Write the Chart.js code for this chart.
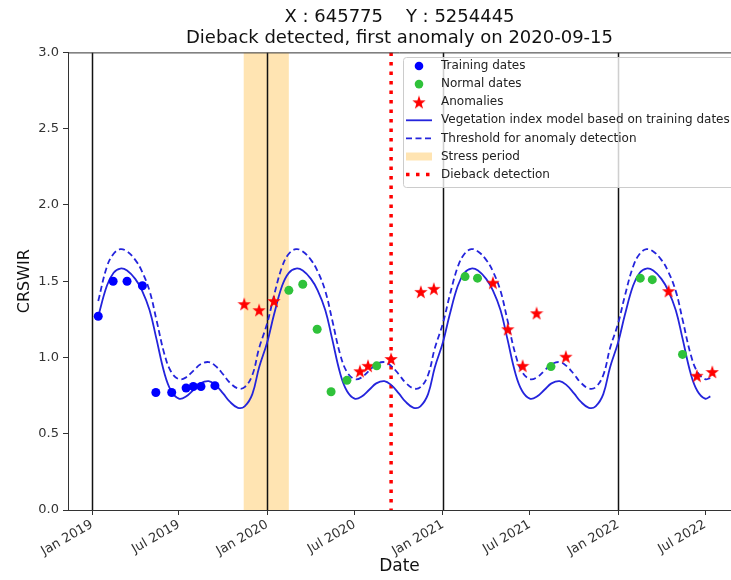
<!DOCTYPE html>
<html>
<head>
<meta charset="utf-8">
<script src="https://cdn.jsdelivr.net/npm/chart.js@4.4.1/dist/chart.umd.min.js"></script>
<style>
  html, body { margin: 0; padding: 0; background: #fff; }
</style>
</head>
<body>
<canvas id="chart" width="731" height="580"></canvas>
<script>
// values
const trainingDates = ['2019-01-14', '2019-02-14', '2019-03-15', '2019-04-16', '2019-05-14',
  '2019-06-16', '2019-07-16', '2019-07-31', '2019-08-16', '2019-09-14'];
const trainingValues = [1.27, 1.50, 1.50, 1.47, 0.77, 0.77, 0.80, 0.81, 0.81, 0.815];

const normalDates = ['2020-02-15', '2020-03-15', '2020-04-14', '2020-05-13', '2020-06-15',
  '2020-08-16', '2021-02-16', '2021-03-14', '2021-08-14', '2022-02-16', '2022-03-13', '2022-05-15'];
const normalValues = [1.44, 1.48, 1.185, 0.775, 0.85, 0.945, 1.53, 1.52, 0.94, 1.52, 1.51, 1.02];

const anomalyDates = ['2019-11-14', '2019-12-15', '2020-01-15', '2020-07-12', '2020-07-29',
  '2020-09-15', '2020-11-16', '2020-12-13', '2021-04-15', '2021-05-16', '2021-06-16',
  '2021-07-15', '2021-09-14', '2022-04-16', '2022-06-14', '2022-07-16'];
const anomalyValues = [1.35, 1.31, 1.37, 0.91, 0.945, 0.99, 1.43, 1.45, 1.49, 1.185, 0.945,
  1.29, 1.005, 1.435, 0.88, 0.905];

const modelDates = [
  '2019-01-14', '2019-02-01', '2019-02-15', '2019-03-01', '2019-03-15', '2019-04-01', '2019-04-15',
  '2019-05-01', '2019-05-15', '2019-06-01', '2019-06-15', '2019-07-01', '2019-07-15', '2019-08-01',
  '2019-08-15', '2019-09-01', '2019-09-15', '2019-10-01', '2019-10-15', '2019-11-01', '2019-11-15',
  '2019-12-01', '2019-12-15',
  '2020-01-01', '2020-01-15', '2020-02-01', '2020-02-15', '2020-03-01', '2020-03-15', '2020-04-01',
  '2020-04-15', '2020-05-01', '2020-05-15', '2020-06-01', '2020-06-15', '2020-07-01', '2020-07-15',
  '2020-08-01', '2020-08-15', '2020-09-01', '2020-09-15', '2020-10-01', '2020-10-15', '2020-11-01',
  '2020-11-15', '2020-12-01', '2020-12-15',
  '2021-01-01', '2021-01-15', '2021-02-01', '2021-02-15', '2021-03-01', '2021-03-15', '2021-04-01',
  '2021-04-15', '2021-05-01', '2021-05-15', '2021-06-01', '2021-06-15', '2021-07-01', '2021-07-15',
  '2021-08-01', '2021-08-15', '2021-09-01', '2021-09-15', '2021-10-01', '2021-10-15', '2021-11-01',
  '2021-11-15', '2021-12-01', '2021-12-15',
  '2022-01-01', '2022-01-15', '2022-02-01', '2022-02-15', '2022-03-01', '2022-03-15', '2022-04-01',
  '2022-04-15', '2022-05-01', '2022-05-15', '2022-06-01', '2022-06-15', '2022-07-01', '2022-07-12'
];
const modelValues = [
  1.27, 1.47, 1.555, 1.583, 1.57, 1.515, 1.44, 1.31, 1.125, 0.895, 0.78, 0.73, 0.742, 0.79,
  0.83, 0.845, 0.82, 0.765, 0.71, 0.67, 0.68, 0.76, 0.935,
  1.10, 1.28, 1.47, 1.555, 1.583, 1.57, 1.515, 1.44, 1.31, 1.125, 0.895, 0.78, 0.73, 0.742,
  0.79, 0.83, 0.845, 0.82, 0.765, 0.71, 0.67, 0.68, 0.76, 0.935,
  1.10, 1.28, 1.47, 1.555, 1.583, 1.57, 1.515, 1.44, 1.31, 1.125, 0.895, 0.78, 0.73, 0.742,
  0.79, 0.83, 0.845, 0.82, 0.765, 0.71, 0.67, 0.68, 0.76, 0.935,
  1.10, 1.28, 1.47, 1.555, 1.583, 1.57, 1.515, 1.44, 1.31, 1.125, 0.895, 0.78, 0.73, 0.745
];
const thresholdValues = [
  1.37, 1.595, 1.68, 1.71, 1.695, 1.64, 1.565, 1.435, 1.25, 1.02, 0.905, 0.858, 0.868, 0.915,
  0.955, 0.97, 0.945, 0.89, 0.835, 0.797, 0.805, 0.885, 1.06,
  1.225, 1.405, 1.595, 1.68, 1.71, 1.695, 1.64, 1.565, 1.435, 1.25, 1.02, 0.905, 0.858, 0.868,
  0.915, 0.955, 0.97, 0.945, 0.89, 0.835, 0.797, 0.805, 0.885, 1.06,
  1.225, 1.405, 1.595, 1.68, 1.71, 1.695, 1.64, 1.565, 1.435, 1.25, 1.02, 0.905, 0.858, 0.868,
  0.915, 0.955, 0.97, 0.945, 0.89, 0.835, 0.797, 0.805, 0.885, 1.06,
  1.225, 1.405, 1.595, 1.68, 1.71, 1.695, 1.64, 1.565, 1.435, 1.25, 1.02, 0.905, 0.858, 0.865
];

const yearLines = ['2019-01-01', '2020-01-01', '2021-01-01', '2022-01-01'];
const stressPeriod = ['2019-11-13', '2020-02-15'];
const diebackDate = '2020-09-15';

const tickDates = ['2019-01-01', '2019-07-01', '2020-01-01', '2020-07-01',
  '2021-01-01', '2021-07-01', '2022-01-01', '2022-07-01'];
const tickLabels = ['Jan 2019', 'Jul 2019', 'Jan 2020', 'Jul 2020',
  'Jan 2021', 'Jul 2021', 'Jan 2022', 'Jul 2022'];
const yTicks = [0, 0.5, 1.0, 1.5, 2.0, 2.5, 3.0];

const FONT = 'DejaVu Sans';
const LINE_BLUE = '#2424dc';
const STRESS_FILL = 'rgba(255,165,0,0.3)';

const toPoints = (dates, values) => dates.map((d, i) => ({ x: Date.parse(d), y: values[i] }));

// filled five-point star, like matplotlib's '*'
function makeStar(size, color) {
  const c = document.createElement('canvas');
  c.width = size; c.height = size;
  const g = c.getContext('2d');
  const r = size / 2, ri = r * 0.4;
  g.beginPath();
  for (let k = 0; k < 10; k++) {
    const rad = k % 2 ? ri : r;
    const a = -Math.PI / 2 + k * Math.PI / 5;
    g.lineTo(r + rad * Math.cos(a), r + rad * 1.05 * Math.sin(a) + 0.6);
  }
  g.closePath();
  g.fillStyle = color;
  g.fill();
  return c;
}
const starImg = makeStar(14, '#ff0000');

const overlays = {
  id: 'overlays',
  beforeDatasetsDraw(chart) {
    const { ctx, chartArea: a, scales: { x } } = chart;
    ctx.save();
    ctx.beginPath();
    ctx.rect(a.left, a.top, a.right - a.left, a.bottom - a.top);
    ctx.clip();

    // stress period
    const s0 = x.getPixelForValue(Date.parse(stressPeriod[0]));
    const s1 = x.getPixelForValue(Date.parse(stressPeriod[1]));
    ctx.fillStyle = STRESS_FILL;
    ctx.fillRect(s0, a.top, s1 - s0, a.bottom - a.top);

    // year boundaries
    ctx.strokeStyle = '#111';
    ctx.lineWidth = 1.5;
    yearLines.forEach(d => {
      const px = Math.round(x.getPixelForValue(Date.parse(d))) + 0.5;
      ctx.beginPath();
      ctx.moveTo(px, a.top);
      ctx.lineTo(px, a.bottom);
      ctx.stroke();
    });

    // dieback detection
    const dx = x.getPixelForValue(Date.parse(diebackDate));
    ctx.strokeStyle = '#ff0000';
    ctx.lineWidth = 3.5;
    ctx.setLineDash([3.5, 6]);
    ctx.beginPath();
    ctx.moveTo(dx, a.top);
    ctx.lineTo(dx, a.bottom);
    ctx.stroke();
    ctx.restore();
  },
  afterDraw(chart) {
    const { ctx, chartArea: a } = chart;
    ctx.save();
    // top spine
    ctx.strokeStyle = '#333';
    ctx.lineWidth = 1;
    ctx.beginPath();
    ctx.moveTo(a.left, a.top + 0.5);
    ctx.lineTo(a.right, a.top + 0.5);
    ctx.stroke();

    // legend
    const lx = 403, ly = 57, lw = 345, lh = 130;
    ctx.fillStyle = 'rgba(255,255,255,0.8)';
    ctx.strokeStyle = '#cccccc';
    ctx.beginPath();
    ctx.roundRect(lx + 0.5, ly + 0.5, lw, lh, 3);
    ctx.fill();
    ctx.stroke();

    const ds = chart.data.datasets;
    const rows = [
      { kind: 'dot', color: ds[0].pointBackgroundColor, text: ds[0].label },
      { kind: 'dot', color: ds[1].pointBackgroundColor, text: ds[1].label },
      { kind: 'star', text: ds[2].label },
      { kind: 'line', dash: [], text: ds[3].label },
      { kind: 'line', dash: ds[4].borderDash, text: ds[4].label },
      { kind: 'patch', text: 'Stress period' },
      { kind: 'dots', text: 'Dieback detection' }
    ];
    const hx0 = 406, hx1 = 432, mx = 419;
    rows.forEach((r, i) => {
      const y = 66 + i * 18.1;
      ctx.setLineDash([]);
      if (r.kind === 'dot') {
        ctx.fillStyle = r.color;
        ctx.beginPath();
        ctx.arc(mx, y, 4.3, 0, Math.PI * 2);
        ctx.fill();
      } else if (r.kind === 'star') {
        ctx.drawImage(starImg, mx - starImg.width / 2, y - starImg.height / 2);
      } else if (r.kind === 'line') {
        ctx.strokeStyle = LINE_BLUE;
        ctx.lineWidth = 1.8;
        ctx.setLineDash(r.dash);
        ctx.beginPath();
        ctx.moveTo(hx0, y);
        ctx.lineTo(hx1, y);
        ctx.stroke();
      } else if (r.kind === 'patch') {
        ctx.fillStyle = STRESS_FILL;
        ctx.fillRect(hx0, y - 4, hx1 - hx0, 8);
      } else if (r.kind === 'dots') {
        ctx.strokeStyle = '#ff0000';
        ctx.lineWidth = 3.5;
        ctx.setLineDash([3.5, 6.5]);
        ctx.beginPath();
        ctx.moveTo(hx0, y);
        ctx.lineTo(hx1, y);
        ctx.stroke();
      }
      ctx.setLineDash([]);
      ctx.fillStyle = '#222';
      ctx.font = '12px "' + FONT + '"';
      ctx.textBaseline = 'middle';
      ctx.textAlign = 'left';
      ctx.fillText(r.text, 441, y);
    });
    ctx.restore();
  }
};

new Chart(document.getElementById('chart'), {
  type: 'scatter',
  data: {
    datasets: [
      {
        label: 'Training dates',
        data: toPoints(trainingDates, trainingValues),
        pointRadius: 4.5,
        pointBackgroundColor: '#0000ff',
        pointBorderWidth: 0
      },
      {
        label: 'Normal dates',
        data: toPoints(normalDates, normalValues),
        pointRadius: 4.5,
        pointBackgroundColor: '#2fc23a',
        pointBorderWidth: 0
      },
      {
        label: 'Anomalies',
        data: toPoints(anomalyDates, anomalyValues),
        pointStyle: starImg,
        pointRadius: 7
      },
      {
        label: 'Vegetation index model based on training dates',
        data: toPoints(modelDates, modelValues),
        showLine: true,
        pointRadius: 0,
        borderColor: LINE_BLUE,
        borderWidth: 1.8,
        tension: 0.4,
        fill: false
      },
      {
        label: 'Threshold for anomaly detection',
        data: toPoints(modelDates, thresholdValues),
        showLine: true,
        pointRadius: 0,
        borderColor: LINE_BLUE,
        borderWidth: 1.8,
        borderDash: [6, 3.5],
        tension: 0.4,
        fill: false
      }
    ]
  },
  options: {
    responsive: false,
    animation: false,
    events: [],
    layout: { padding: 0, autoPadding: false },
    plugins: {
      legend: { display: false },
      tooltip: { enabled: false },
      title: {
        display: true,
        fullSize: false,
        text: ['X : 645775    Y : 5254445', 'Dieback detected, first anomaly on 2020-09-15'],
        color: '#111',
        font: { family: FONT, size: 18, weight: 'normal', lineHeight: 1.15 },
        padding: { top: 7, bottom: 4 }
      }
    },
    scales: {
      x: {
        type: 'linear',
        min: Date.parse('2018-11-12'),
        max: Date.parse('2022-08-24'),
        afterBuildTicks: s => { s.ticks = tickDates.map(d => ({ value: Date.parse(d) })); },
        afterFit: s => { s.height = 70; s.paddingRight = 0; },
        ticks: {
          autoSkip: false,
          minRotation: 30,
          maxRotation: 30,
          color: '#333',
          padding: 2,
          font: { family: FONT, size: 13 },
          callback: (v, i) => tickLabels[i]
        },
        grid: { drawOnChartArea: false, drawTicks: true, tickLength: 5, color: '#333' },
        border: { display: true, color: '#333', width: 1 },
        title: {
          display: true,
          text: 'Date',
          color: '#111',
          font: { family: FONT, size: 17 },
          padding: { top: 0, bottom: 3 }
        }
      },
      y: {
        min: 0,
        max: 3,
        afterBuildTicks: s => { s.ticks = yTicks.map(v => ({ value: v })); },
        afterFit: s => { s.width = 68; },
        ticks: {
          color: '#333',
          padding: 4,
          font: { family: FONT, size: 13 },
          callback: v => v.toFixed(1)
        },
        grid: { drawOnChartArea: false, drawTicks: true, tickLength: 5, color: '#333' },
        border: { display: true, color: '#333', width: 1 },
        title: {
          display: true,
          text: 'CRSWIR',
          color: '#111',
          font: { family: FONT, size: 16 },
          padding: { top: 15, bottom: 0 }
        }
      }
    }
  },
  plugins: [overlays]
});
</script>
</body>
</html>
